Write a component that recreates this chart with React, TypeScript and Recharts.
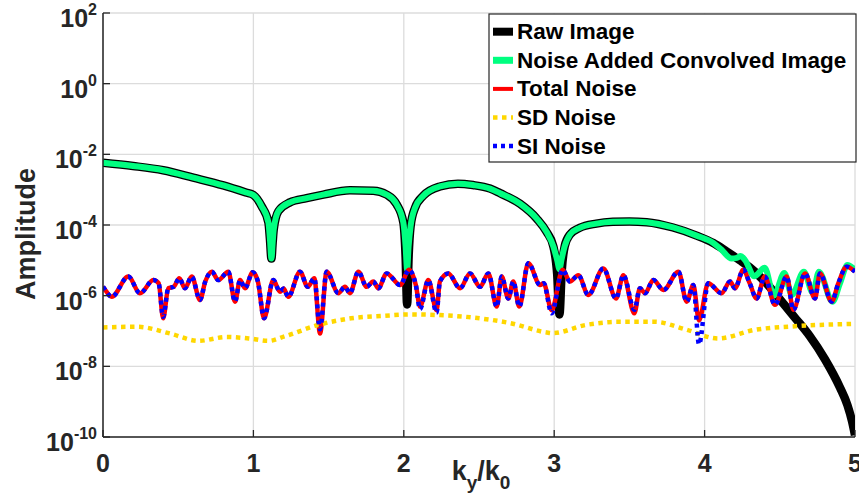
import React from 'react';
import { LineChart, Line, XAxis, YAxis, CartesianGrid } from 'recharts';

const FONT = '"Liberation Sans", Arial, Helvetica, sans-serif';
const INK = '#262626';
const W = 859;
const H = 501;

// Axis ticks
const xTicks = [0, 1, 2, 3, 4, 5];
const yTicks = [1e-10, 1e-8, 1e-6, 1e-4, 1e-2, 1, 100];

// Raw image spectrum (k_y/k_0, log10 amplitude)
const kRaw = [
  0, 0.2, 0.4, 0.6, 0.8, 0.95, 1.0, 1.055, 1.1, 1.11,
  1.12, 1.128, 1.135, 1.166, 1.243, 1.354, 1.465, 1.642, 1.797, 1.886,
  1.953, 1.997, 2.012, 2.022, 2.032, 2.045, 2.074, 2.13, 2.24, 2.36,
  2.46, 2.573, 2.64, 2.773, 2.884, 2.95, 2.994, 3.02, 3.035, 3.05,
  3.07, 3.105, 3.17, 3.28, 3.39, 3.5, 3.615, 3.79, 3.947, 4.058,
  4.147, 4.235, 4.3, 4.4, 4.5, 4.6, 4.7, 4.8, 4.9, 4.95,
  4.98, 5.0,
];
const rawLog = [
  -2.24, -2.33, -2.45, -2.66, -2.88, -3.08, -3.15, -3.47, -3.93, -4.4,
  -4.95, -4.5, -4.13, -3.61, -3.36, -3.24, -3.14, -3.02, -3.03, -3.14,
  -3.42, -3.93, -4.9, -6.25, -4.9, -4.04, -3.52, -3.17, -2.91, -2.83,
  -2.87, -2.97, -3.1, -3.4, -3.82, -4.2, -4.6, -5.4, -6.53, -5.3,
  -4.6, -4.27, -4.08, -3.96, -3.91, -3.9, -3.92, -4.07, -4.3, -4.51,
  -4.75, -5.0, -5.2, -5.6, -6.1, -6.62, -7.15, -7.8, -8.6, -9.1,
  -9.55, -9.95,
];

// Noise added convolved image
const kConv = [
  0, 0.2, 0.4, 0.6, 0.8, 0.95, 1.0, 1.055, 1.1, 1.11,
  1.12, 1.128, 1.135, 1.166, 1.243, 1.354, 1.465, 1.642, 1.797, 1.886,
  1.953, 1.997, 2.012, 2.022, 2.032, 2.045, 2.074, 2.13, 2.24, 2.36,
  2.46, 2.573, 2.64, 2.773, 2.884, 2.95, 2.994, 3.02, 3.035, 3.05,
  3.07, 3.105, 3.17, 3.28, 3.39, 3.5, 3.615, 3.79, 3.947, 4.058,
  4.11, 4.18, 4.215, 4.24, 4.27, 4.33, 4.4, 4.46, 4.53, 4.58,
  4.66, 4.72, 4.76, 4.85, 4.9, 4.95, 5.0,
];
const convLog = [
  -2.24, -2.33, -2.45, -2.66, -2.88, -3.08, -3.15, -3.47, -3.93, -4.4,
  -4.95, -4.5, -4.13, -3.61, -3.36, -3.24, -3.14, -3.02, -3.03, -3.14,
  -3.42, -3.93, -4.6, -5.26, -4.6, -4.04, -3.52, -3.17, -2.91, -2.83,
  -2.87, -2.97, -3.1, -3.4, -3.82, -4.2, -4.6, -5.0, -5.25, -4.95,
  -4.6, -4.27, -4.08, -3.96, -3.91, -3.9, -3.92, -4.07, -4.3, -4.51,
  -4.69, -4.95, -4.93, -4.88, -5.0, -5.45, -5.21, -6.0, -5.36, -5.98,
  -5.32, -5.93, -5.32, -6.17, -5.65, -5.13, -5.27,
];

// Total noise and SI noise share one k grid
const kNoise = [
  0.0, 0.007, 0.058, 0.168, 0.246, 0.335, 0.37, 0.4, 0.434, 0.47,
  0.507, 0.545, 0.59, 0.645, 0.68, 0.723, 0.767, 0.833, 0.878, 0.911,
  0.944, 0.995, 1.03, 1.071, 1.132, 1.177, 1.2, 1.232, 1.31, 1.361,
  1.405, 1.443, 1.487, 1.565, 1.609, 1.642, 1.698, 1.753, 1.797, 1.831,
  1.886, 1.975, 2.035, 2.08, 2.108, 2.163, 2.218, 2.24, 2.296, 2.374,
  2.44, 2.507, 2.562, 2.618, 2.651, 2.695, 2.728, 2.768, 2.828, 2.906,
  2.93, 2.983, 3.056, 3.105, 3.16, 3.227, 3.327, 3.411, 3.46, 3.533,
  3.57, 3.604, 3.659, 3.726, 3.826, 3.881, 3.925, 3.963, 4.024, 4.113,
  4.169, 4.202, 4.257, 4.3, 4.346, 4.4, 4.468, 4.546, 4.59, 4.668,
  4.734, 4.767, 4.845, 4.889, 4.945, 5.0,
];
const totalNoiseLog = [
  -5.75, -5.79, -6.03, -5.46, -5.93, -5.56, -5.65, -6.64, -5.79, -5.75,
  -5.51, -5.79, -5.46, -6.12, -5.6, -5.32, -5.56, -5.32, -6.17, -5.56,
  -5.79, -5.34, -5.6, -6.64, -5.56, -5.89, -5.8, -6.03, -5.32, -5.75,
  -5.51, -7.07, -5.32, -5.93, -5.75, -5.93, -5.32, -5.75, -5.6, -5.79,
  -5.37, -5.7, -5.27, -5.7, -6.31, -5.56, -6.41, -5.6, -5.37, -5.79,
  -5.37, -5.75, -5.37, -6.31, -5.46, -6.08, -5.6, -6.31, -5.08, -5.7,
  -5.65, -6.41, -5.27, -5.6, -5.42, -5.98, -5.23, -6.08, -5.42, -6.5,
  -5.79, -5.93, -5.56, -5.84, -5.32, -6.17, -5.7, -6.7, -5.65, -5.93,
  -5.6, -5.79, -5.27, -5.65, -6.08, -5.46, -6.26, -5.46, -6.4, -5.37,
  -6.08, -5.37, -6.17, -5.65, -5.18, -5.32,
];
const siNoiseLog = [
  -5.75, -5.79, -6.03, -5.46, -5.93, -5.56, -5.65, -6.6, -5.79, -5.75,
  -5.51, -5.79, -5.46, -6.12, -5.6, -5.32, -5.56, -5.32, -6.17, -5.56,
  -5.79, -5.34, -5.6, -6.64, -5.56, -5.89, -5.8, -6.03, -5.32, -5.75,
  -5.51, -6.95, -5.32, -5.93, -5.75, -5.93, -5.32, -5.75, -5.6, -5.79,
  -5.37, -5.7, -5.27, -5.7, -6.38, -5.56, -6.48, -5.6, -5.37, -5.79,
  -5.37, -5.75, -5.37, -6.31, -5.46, -6.08, -5.6, -6.31, -5.08, -5.7,
  -5.65, -6.5, -5.27, -5.6, -5.42, -5.98, -5.23, -6.08, -5.42, -6.4,
  -5.79, -5.93, -5.56, -5.84, -5.32, -6.17, -5.7, -7.38, -5.65, -5.93,
  -5.6, -5.79, -5.27, -5.65, -6.08, -5.46, -6.26, -5.46, -6.4, -5.37,
  -6.08, -5.37, -6.17, -5.65, -5.18, -5.32,
];

// SD noise
const kSd = [
  0, 0.229, 0.445, 0.634, 0.82, 0.97, 1.1, 1.21, 1.43, 1.65,
  1.87, 2.04, 2.24, 2.46, 2.71, 2.95, 2.99, 3.21, 3.43, 3.67,
  3.87, 4.09, 4.33, 4.62, 5.0,
];
const sdNoiseLog = [
  -6.9, -6.88, -7.07, -7.28, -7.17, -7.21, -7.28, -7.15, -6.83, -6.64,
  -6.57, -6.53, -6.55, -6.62, -6.78, -7.04, -7.06, -6.83, -6.74, -6.74,
  -6.95, -7.21, -6.97, -6.86, -6.8,
];

const rows = (ks: number[], logs: number[]) =>
  ks.map((k, i) => ({ k, amp: Math.pow(10, logs[i]) }));

const rawData = rows(kRaw, rawLog);
const convData = rows(kConv, convLog);
const totalData = rows(kNoise, totalNoiseLog);
const siData = rows(kNoise, siNoiseLog);
const sdData = rows(kSd, sdNoiseLog);

const series = [
  { name: 'Raw Image', color: '#000000', width: 8, dash: undefined as string | undefined },
  { name: 'Noise Added Convolved Image', color: '#00ff80', width: 7, dash: undefined },
  { name: 'Total Noise', color: '#ff0000', width: 4, dash: undefined },
  { name: 'SD Noise', color: '#ffd700', width: 4.5, dash: '4.5 4.5' },
  { name: 'SI Noise', color: '#0000ff', width: 4.5, dash: '4 4' },
];

const TICK_LEN = 7;

const BottomTick = (props: any) => {
  const { x, y, payload } = props;
  return (
    <g>
      <line x1={x} y1={y} x2={x} y2={y - TICK_LEN} stroke={INK} strokeWidth={1.3} />
      <text x={x} y={y + 35} textAnchor="middle" fontSize={25} fontWeight="bold" fill={INK} fontFamily={FONT}>
        {payload.value}
      </text>
    </g>
  );
};

const TopTick = (props: any) => {
  const { x, y } = props;
  return <line x1={x} y1={y} x2={x} y2={y + TICK_LEN} stroke={INK} strokeWidth={1.3} />;
};

const LeftTick = (props: any) => {
  const { x, y, payload } = props;
  const exp = Math.round(Math.log10(payload.value));
  return (
    <g>
      <line x1={x} y1={y} x2={x + TICK_LEN} y2={y} stroke={INK} strokeWidth={1.3} />
      <text x={x - 6} y={y + 14} textAnchor="end" fontSize={25} fontWeight="bold" fill={INK} fontFamily={FONT}>
        <tspan>10</tspan>
        <tspan dy={-12} fontSize={16}>{exp}</tspan>
      </text>
    </g>
  );
};

const RightTick = (props: any) => {
  const { x, y } = props;
  return <line x1={x} y1={y} x2={x - TICK_LEN} y2={y} stroke={INK} strokeWidth={1.3} />;
};

const XLabel = (props: any) => {
  const vb = props.viewBox;
  const cx = vb.x + vb.width / 2 + 2;
  return (
    <text x={cx} y={vb.y + 43} textAnchor="middle" fontSize={27} fontWeight="bold" fill={INK} fontFamily={FONT}>
      <tspan>k</tspan>
      <tspan dy={9} fontSize={19}>y</tspan>
      <tspan dy={-9}>/k</tspan>
      <tspan dy={9} fontSize={19}>0</tspan>
    </text>
  );
};

const YLabel = (props: any) => {
  const vb = props.viewBox;
  const bx = vb.x + 35;
  const cy = vb.y + vb.height / 2 + 9;
  return (
    <text
      transform={`translate(${bx},${cy}) rotate(-90)`}
      textAnchor="middle"
      fontSize={27}
      fontWeight="bold"
      fill={INK}
      fontFamily={FONT}
    >
      Amplitude
    </text>
  );
};

const LegendBox = () => {
  const left = 489;
  const top = 14;
  const rowH = 28.6;
  return (
    <svg
      width={W}
      height={H}
      style={{ position: 'absolute', left: 0, top: 0, pointerEvents: 'none' }}
    >
      <rect x={left} y={top} width={367} height={148} fill="#ffffff" stroke={INK} strokeWidth={1.2} />
      {series.map((s, i) => {
        const cy = top + 17.7 + i * rowH;
        return (
          <g key={s.name}>
            <line
              x1={left + 4}
              x2={left + 24}
              y1={cy}
              y2={cy}
              stroke={s.color}
              strokeWidth={s.width}
              strokeDasharray={s.dash}
            />
            <text x={left + 28} y={cy + 7.5} fontSize={22.5} fontWeight="bold" fill="#000" fontFamily={FONT}>
              {s.name}
            </text>
          </g>
        );
      })}
    </svg>
  );
};

export default function App() {
  return (
    <div style={{ position: 'absolute', left: 0, top: 0, width: W, height: H, background: '#fff' }}>
      <LineChart width={W} height={H} margin={{ top: 13, right: 4, bottom: 0, left: 0 }}>
        <CartesianGrid stroke="#dcdcdc" strokeWidth={1.3} />
        <XAxis
          dataKey="k"
          type="number"
          domain={[0, 5]}
          ticks={xTicks}
          allowDataOverflow
          interval={0}
          height={64}
          tickSize={0}
          tickMargin={0}
          tickLine={false}
          axisLine={{ stroke: INK, strokeWidth: 1.5 }}
          tick={BottomTick}
          label={XLabel}
        />
        <XAxis
          xAxisId="top"
          orientation="top"
          dataKey="k"
          type="number"
          domain={[0, 5]}
          ticks={xTicks}
          allowDataOverflow
          interval={0}
          height={0}
          tickSize={0}
          tickMargin={0}
          tickLine={false}
          axisLine={{ stroke: INK, strokeWidth: 1.5 }}
          tick={TopTick}
        />
        <YAxis
          type="number"
          scale="log"
          domain={[1e-10, 100]}
          ticks={yTicks}
          allowDataOverflow
          interval={0}
          width={103}
          tickSize={0}
          tickMargin={0}
          tickLine={false}
          axisLine={{ stroke: INK, strokeWidth: 1.5 }}
          tick={LeftTick}
          label={YLabel}
        />
        <YAxis
          yAxisId="right"
          orientation="right"
          type="number"
          scale="log"
          domain={[1e-10, 100]}
          ticks={yTicks}
          allowDataOverflow
          interval={0}
          width={0}
          tickSize={0}
          tickMargin={0}
          tickLine={false}
          axisLine={{ stroke: INK, strokeWidth: 1.5 }}
          tick={RightTick}
        />
        <Line data={rawData} dataKey="amp" name="Raw Image" type="monotoneX" stroke="#000000" strokeWidth={8.5}
          strokeLinejoin="round" dot={false} activeDot={false} isAnimationActive={false} />
        <Line data={convData} dataKey="amp" name="Noise Added Convolved Image" type="monotoneX" stroke="#00ff80"
          strokeWidth={6} strokeLinejoin="round" dot={false} activeDot={false} isAnimationActive={false} />
        <Line data={totalData} dataKey="amp" name="Total Noise" type="monotoneX" stroke="#ff0000" strokeWidth={4.5}
          strokeLinejoin="round" dot={false} activeDot={false} isAnimationActive={false} />
        <Line data={sdData} dataKey="amp" name="SD Noise" type="monotoneX" stroke="#ffd700" strokeWidth={4.5}
          strokeDasharray="4.5 4.5" dot={false} activeDot={false} isAnimationActive={false} />
        <Line data={siData} dataKey="amp" name="SI Noise" type="monotoneX" stroke="#0000ff" strokeWidth={4.5}
          strokeDasharray="4 4" dot={false} activeDot={false} isAnimationActive={false} />
      </LineChart>
      <LegendBox />
    </div>
  );
}
